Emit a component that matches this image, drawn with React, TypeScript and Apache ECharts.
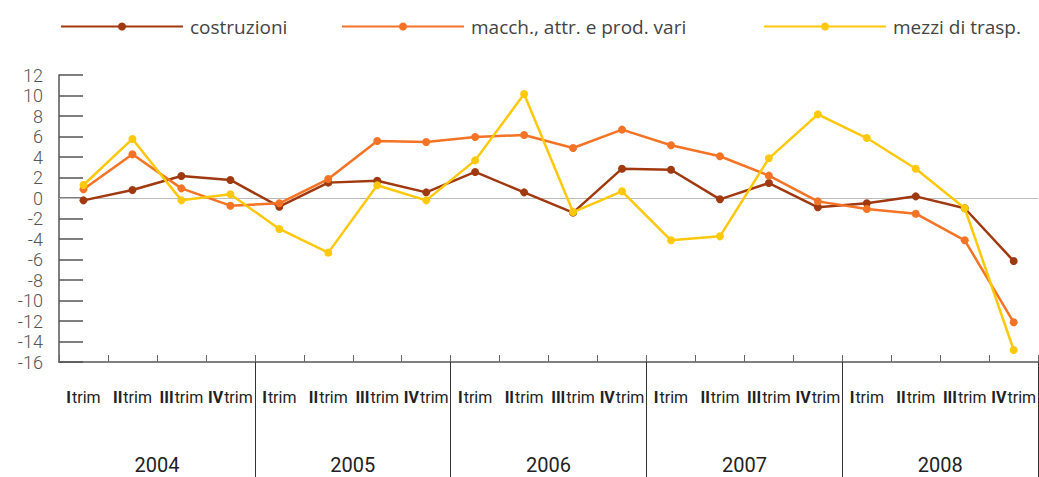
import React, { useEffect, useRef } from "react";
import * as echarts from "echarts";

const years = ["2004", "2005", "2006", "2007", "2008"];
const quarters = ["I trim", "II trim", "III trim", "IV trim"];

const costruzioni = [-0.23, 0.78, 2.15, 1.76, -0.85, 1.5, 1.69, 0.55, 2.54, 0.55, -1.43, 2.86, 2.76, -0.13, 1.46, -0.91, -0.52, 0.16, -1.0, -6.15];
const macchine = [0.85, 4.26, 0.94, -0.75, -0.52, 1.85, 5.56, 5.46, 5.95, 6.15, 4.88, 6.67, 5.14, 4.07, 2.18, -0.33, -1.07, -1.53, -4.13, -12.13];
const mezzi = [1.27, 5.76, -0.23, 0.36, -3.02, -5.33, 1.24, -0.23, 3.67, 10.15, -1.37, 0.65, -4.13, -3.74, 3.87, 8.16, 5.85, 2.86, -1.0, -14.83];

const seriesNames = ["costruzioni", "macch., attr. e prod. vari", "mezzi di trasp."];
const seriesColors = ["#A0390F", "#F47325", "#FFC80A"];

const categories = years.flatMap((y) => quarters.map((q) => `${y}|${q}`));

export default function App() {
  const ref = useRef<HTMLDivElement>(null);
  useEffect(() => {
    if (!ref.current) return;
    const chart = echarts.init(ref.current, null, { renderer: "svg" });
    const font = "Roboto, 'DejaVu Sans', sans-serif";
    const wide = "'Open Sans', Roboto, sans-serif";
    const legendBase = {
      top: 12,
      itemWidth: 122,
      itemHeight: 10,
      textStyle: { fontSize: 19, color: "#444", fontFamily: wide, padding: [0, 0, 0, 2] },
      selectedMode: false,
    };
    const values = [costruzioni, macchine, mezzi];
    chart.setOption({
      animation: false,
      legend: [
        { ...legendBase, left: 55, data: [seriesNames[0]] },
        { ...legendBase, left: 336, data: [seriesNames[1]] },
        { ...legendBase, left: 758, data: [seriesNames[2]] },
      ],
      grid: { left: 59, right: -1, top: 75, bottom: 115, containLabel: false },
      xAxis: [
        {
          type: "category",
          data: categories,
          boundaryGap: true,
          axisLine: { show: true, onZero: false, lineStyle: { color: "#555", width: 1.5 } },
          axisTick: { show: true, inside: true, length: 7, interval: 0, lineStyle: { color: "#666", width: 1 } },
          axisLabel: {
            interval: 0,
            margin: 27,
            formatter: (v: string) => {
              const q = v.split("|")[1];
              const [r, t] = q.split(" ");
              return `{r|${r}}{t|${t}}`;
            },
            rich: {
              r: { fontFamily: font, fontWeight: "bold", fontSize: 16, color: "#222", padding: [0, 1, 0, 0] },
              t: { fontFamily: font, fontSize: 16, color: "#222" },
            },
          },
        },
        {
          type: "category",
          data: years,
          position: "bottom",
          boundaryGap: true,
          axisLine: { show: false, onZero: false },
          axisTick: {
            show: true,
            length: 115,
            interval: (idx: number) => idx >= 1,
            lineStyle: { color: "#333", width: 1 },
          },
          axisLabel: { margin: 93, fontSize: 20, color: "#222", fontFamily: font },
        },
      ],
      yAxis: {
        type: "value",
        min: -16,
        max: 12,
        interval: 2,
        axisLine: { show: true, lineStyle: { color: "#555", width: 1.5 } },
        axisTick: { show: true, inside: true, length: 24, lineStyle: { color: "#555", width: 1.5 } },
        splitLine: { show: false },
        axisLabel: { margin: 16, fontSize: 18, lineHeight: 18, color: "#555", fontFamily: font, fontWeight: 300 },
      },
      series: values.map((d, i) => ({
        name: seriesNames[i],
        type: "line",
        data: d,
        xAxisIndex: 0,
        color: seriesColors[i],
        symbol: "circle",
        symbolSize: 8,
        lineStyle: { width: 2.5, color: seriesColors[i] },
        itemStyle: { color: seriesColors[i] },
        z: 3 + i,
        markLine:
          i === 0
            ? {
                silent: true,
                symbol: ["none", "none"],
                label: { show: false },
                lineStyle: { color: "#bbb", width: 1, type: "solid" },
                data: [{ yAxis: 0 }],
                z: 1,
              }
            : undefined,
      })),
    });
    return () => chart.dispose();
  }, []);
  return (
    <div
      ref={ref}
      style={{ position: "fixed", left: 0, top: 0, width: 1039, height: 477, background: "#fff" }}
    />
  );
}
